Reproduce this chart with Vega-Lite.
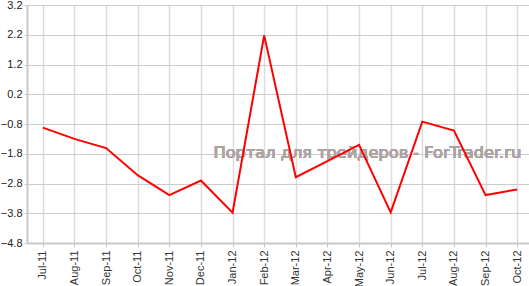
{
  "$schema": "https://vega.github.io/schema/vega-lite/v6.json",
  "width": 506,
  "height": 238,
  "autosize": {"type": "none"},
  "padding": {"left": 27, "top": 5, "right": 0, "bottom": 43},
  "background": "white",
  "config": {"view": {"stroke": null}},
  "data": {
    "values": [
      {"month": "Jul-11", "value": -0.92},
      {"month": "Aug-11", "value": -1.3},
      {"month": "Sep-11", "value": -1.61},
      {"month": "Oct-11", "value": -2.52},
      {"month": "Nov-11", "value": -3.19},
      {"month": "Dec-11", "value": -2.7},
      {"month": "Jan-12", "value": -3.78},
      {"month": "Feb-12", "value": 2.18},
      {"month": "Mar-12", "value": -2.59},
      {"month": "Apr-12", "value": -2.05},
      {"month": "May-12", "value": -1.5},
      {"month": "Jun-12", "value": -3.77},
      {"month": "Jul-12", "value": -0.72},
      {"month": "Aug-12", "value": -1.02},
      {"month": "Sep-12", "value": -3.19},
      {"month": "Oct-12", "value": -3.0}
    ]
  },
  "encoding": {
    "x": {
      "field": "month",
      "type": "ordinal",
      "sort": null,
      "scale": {"type": "point", "padding": 0.5, "domain": ["Jul-11","Aug-11","Sep-11","Oct-11","Nov-11","Dec-11","Jan-12","Feb-12","Mar-12","Apr-12","May-12","Jun-12","Jul-12","Aug-12","Sep-12","Oct-12"]},
      "axis": {
        "title": null,
        "labelAngle": -90,
        "labelFont": "Liberation Sans",
        "labelFontSize": 11,
        "labelColor": "#333333",
        "labelPadding": 3,
        "tickSize": 4,
        "tickColor": "#c8c8c8",
        "domainColor": "#c8c8c8",
        "domainWidth": 2,
        "grid": true,
        "gridColor": "#dcdcdc",
        "gridWidth": 1.5
      }
    },
    "y": {
      "field": "value",
      "type": "quantitative",
      "scale": {"domain": [-4.8, 3.2], "nice": false, "zero": false},
      "axis": {
        "title": null,
        "values": [-4.8, -3.8, -2.8, -1.8, -0.8, 0.2, 1.2, 2.2, 3.2],
        "format": ".1f",
        "labelFont": "Liberation Sans",
        "labelFontSize": 11,
        "labelColor": "#222222",
        "labelPadding": 2,
        "tickSize": 3,
        "tickColor": "#c8c8c8",
        "domainColor": "#c8c8c8",
        "domainWidth": 2,
        "gridColor": "#cccccc",
        "gridWidth": 1
      }
    }
  },
  "layer": [
    {
      "mark": {"type": "text", "font": "DejaVu Sans", "fontSize": 16.2, "color": "#aea4a4", "align": "right", "baseline": "alphabetic", "dx": 4},
      "encoding": {
        "x": {"datum": "Oct-12"},
        "y": {"datum": -1.95},
        "text": {"value": "Портал для трейдеров - ForTrader.ru"}
      }
    },
    {
      "mark": {"type": "line", "color": "#ff0000", "strokeWidth": 2}
    }
  ]
}
